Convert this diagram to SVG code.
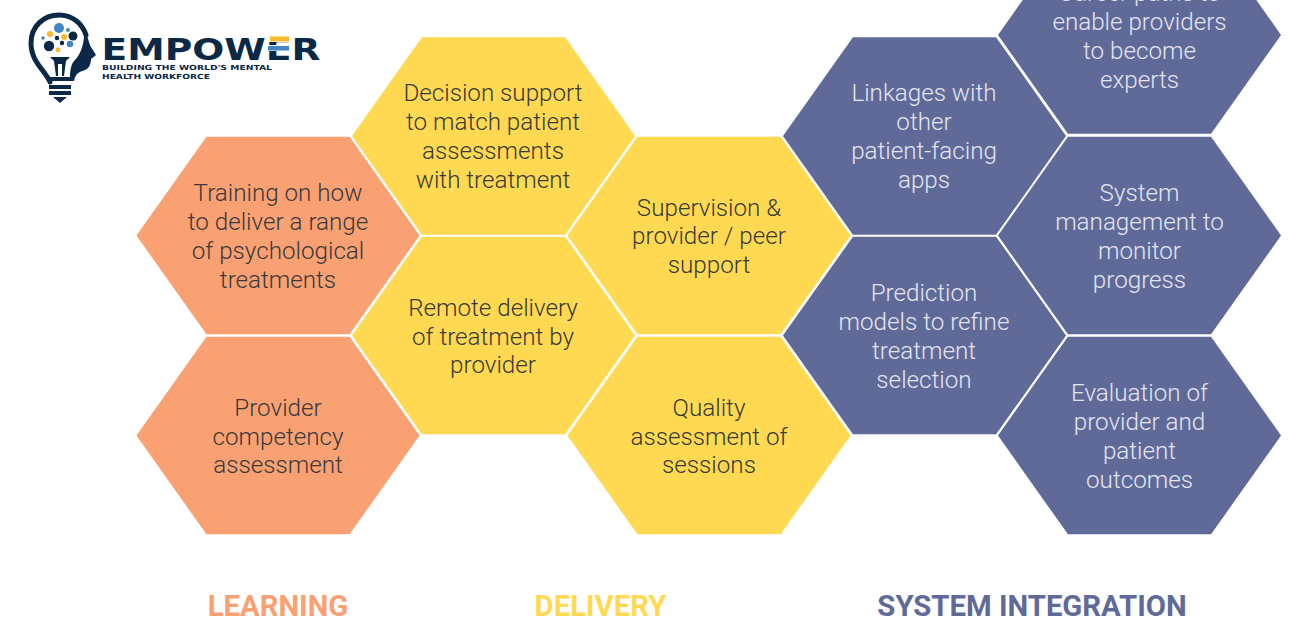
<svg xmlns="http://www.w3.org/2000/svg" width="1291" height="619" viewBox="0 0 1291 619">
<style>
.l{fill:#f9a173}.d{fill:#ffd952}.s{fill:#606a99}
use{stroke:#fff;stroke-width:1.5}
text{font-family:Roboto,"Liberation Sans",sans-serif;text-anchor:middle}
.t{font-size:24.2px;font-weight:300;fill:#3a3a3a}
.w{font-size:24.2px;font-weight:300;fill:#e3e5f0}
.h{font-size:29.3px;font-weight:700}
.n{fill:#0b2947}.b{fill:#4286c8}.y{fill:#fbb92e}
</style>
<defs><polygon id="hex" points="-142.5,0 -72,-99.5 72,-99.5 142.5,0 72,99.5 -72,99.5"/></defs>
<rect width="1291" height="619" fill="#fff"/>
<g id="logo">
<path d="M50 82C45 70 31 62 31 43C31 26 44 15 59 15C72 15 82 23 86 35" fill="none" stroke="#0b2947" stroke-width="5" stroke-linecap="round"/>
<path d="M84 29C88 36 89 44 91 47L96 55L91 59C91 65 88 69 85 70C80 72 76 72 74 81H50V77H70C70 70 71 64 75 60C81 54 85 42 84 29Z" class="n"/>
<path d="M50 57H70L66 61L64 76H62L62 64H58L58 76H56L54 61Z" class="n"/>
<rect x="49" y="85" width="22" height="4" class="n"/><rect x="49" y="91" width="22" height="4" class="n"/>
<path d="M53 97H67L60 103Z" class="n"/>
<circle cx="59" cy="28" r="5" class="b"/><circle cx="50" cy="34" r="3" class="y"/><circle cx="68" cy="30" r="2" class="b"/><circle cx="73" cy="36" r="4.5" class="n"/><circle cx="43" cy="38" r="1.8" class="b"/><circle cx="57" cy="38" r="2.2" class="n"/><circle cx="64" cy="37" r="3" class="y"/><circle cx="49" cy="46" r="5.2" class="n"/><circle cx="62" cy="43" r="2.2" class="n"/><circle cx="70" cy="44" r="3.2" class="b"/><circle cx="58" cy="50" r="2.4" class="y"/>
<text x="211" y="60" style="font-family:'DejaVu Sans',sans-serif;font-size:31px;font-weight:700;fill:#0b2947;text-anchor:middle" textLength="219" lengthAdjust="spacingAndGlyphs">EMPOWER</text>
<rect x="267" y="36" width="24" height="6" fill="#fff"/><rect x="267" y="45" width="24" height="6" fill="#fff"/>
<rect x="270" y="36.5" width="19" height="5" class="y"/><rect x="268" y="46" width="21" height="4.5" class="b"/>
<text x="102" y="70" style="font-family:'DejaVu Sans',sans-serif;font-size:7px;font-weight:700;fill:#0b2947;text-anchor:start" textLength="170" lengthAdjust="spacingAndGlyphs">BUILDING THE WORLD'S MENTAL</text>
<text x="102" y="79" style="font-family:'DejaVu Sans',sans-serif;font-size:7px;font-weight:700;fill:#0b2947;text-anchor:start" textLength="108" lengthAdjust="spacingAndGlyphs">HEALTH WORKFORCE</text>
</g>
<g id="connectors"/>
<g id="n1"><use href="#hex" x="278" y="235.5" class="l"/><text class="t"><tspan x="278" y="201">Training on how</tspan><tspan x="278" y="230">to deliver a range</tspan><tspan x="278" y="259">of psychological</tspan><tspan x="278" y="288">treatments</tspan></text></g>
<g id="n2"><use href="#hex" x="278" y="435.5" class="l"/><text class="t"><tspan x="278" y="416">Provider</tspan><tspan x="278" y="445">competency</tspan><tspan x="278" y="473">assessment</tspan></text></g>
<g id="n3"><use href="#hex" x="493.5" y="136" class="d"/><text class="t"><tspan x="493" y="101">Decision support</tspan><tspan x="493" y="130">to match patient</tspan><tspan x="493" y="159">assessments</tspan><tspan x="493" y="188">with treatment</tspan></text></g>
<g id="n4"><use href="#hex" x="493.5" y="335.5" class="d"/><text class="t"><tspan x="493" y="316">Remote delivery</tspan><tspan x="493" y="345">of treatment by</tspan><tspan x="493" y="373">provider</tspan></text></g>
<g id="n5"><use href="#hex" x="709" y="235.5" class="d"/><text class="t"><tspan x="709" y="216">Supervision &amp;</tspan><tspan x="709" y="244">provider / peer</tspan><tspan x="709" y="273">support</tspan></text></g>
<g id="n6"><use href="#hex" x="709" y="435.5" class="d"/><text class="t"><tspan x="709" y="416">Quality</tspan><tspan x="709" y="445">assessment of</tspan><tspan x="709" y="473">sessions</tspan></text></g>
<g id="n7"><use href="#hex" x="924.5" y="136" class="s"/><text class="w"><tspan x="924" y="101">Linkages with</tspan><tspan x="924" y="130">other</tspan><tspan x="924" y="159">patient-facing</tspan><tspan x="924" y="188">apps</tspan></text></g>
<g id="n8"><use href="#hex" x="924.5" y="335.5" class="s"/><text class="w"><tspan x="924" y="301">Prediction</tspan><tspan x="924" y="330">models to refine</tspan><tspan x="924" y="359">treatment</tspan><tspan x="924" y="388">selection</tspan></text></g>
<g id="n9"><use href="#hex" x="1139.5" y="35" class="s"/><text class="w"><tspan x="1139.5" y="1">Career paths to</tspan><tspan x="1139.5" y="30">enable providers</tspan><tspan x="1139.5" y="59">to become</tspan><tspan x="1139.5" y="88">experts</tspan></text></g>
<g id="n10"><use href="#hex" x="1139.5" y="235.5" class="s"/><text class="w"><tspan x="1139.5" y="201">System</tspan><tspan x="1139.5" y="230">management to</tspan><tspan x="1139.5" y="259">monitor</tspan><tspan x="1139.5" y="288">progress</tspan></text></g>
<g id="n11"><use href="#hex" x="1139.5" y="435.5" class="s"/><text class="w"><tspan x="1139.5" y="401">Evaluation of</tspan><tspan x="1139.5" y="430">provider and</tspan><tspan x="1139.5" y="459">patient</tspan><tspan x="1139.5" y="488">outcomes</tspan></text></g>
<text class="h" x="278" y="616" fill="#f9a173">LEARNING</text>
<text class="h" x="600.5" y="616" fill="#ffd952">DELIVERY</text>
<text class="h" x="1032" y="616" fill="#606a99">SYSTEM INTEGRATION</text>
</svg>
